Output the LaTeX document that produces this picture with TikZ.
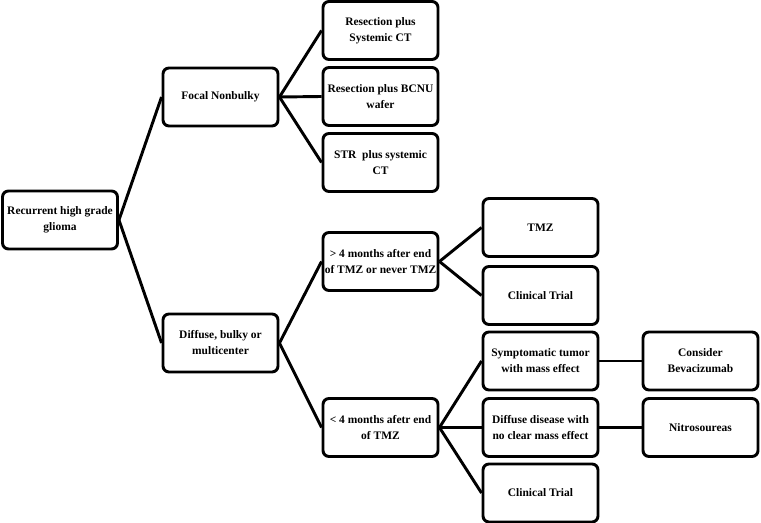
\documentclass[tikz,border=0pt]{standalone}
\usepackage{fontspec}
\setmainfont{Liberation Serif}
\usepackage{amsmath}
\usetikzlibrary{positioning}

\tikzset{
  box/.style={draw, line width=2.2pt, rounded corners=4.5pt, fill=white,
    minimum width=86.25pt, minimum height=43.5pt, inner sep=1pt,
    align=center, font=\bfseries\fontsize{8.6}{12}\selectfont},
  link/.style={line width=2.2pt}
}

\begin{document}
\begin{tikzpicture}[x=0.75pt,y=0.75pt,yscale=-1,xscale=1]
\useasboundingbox (0,0) rectangle (761,523);

%Level 0
\node [box] (root) at (60,220) {Recurrent high grade\\glioma};
%Level 1
\node [box] (focal) at (220.5,97) {Focal Nonbulky};
\node [box] (diffuse) at (220.5,343) {Diffuse, bulky or\\multicenter};
%Level 2
\node [box] (rescct) at (380.5,30.5) {Resection plus\\Systemic CT};
\node [box] (resbcnu) at (380.5,96.5) {Resection plus BCNU\\wafer};
\node [box] (strct) at (380.5,162.5) {STR\ \ plus systemic\\CT};
\node [box] (late) at (380.5,261.5) {> 4 months after end\\of TMZ or never TMZ};
\node [box] (early) at (380.5,427.5) {< 4 months afetr end\\of TMZ};
%Level 3
\node [box] (tmz) at (540.5,227.5) {TMZ};
\node [box] (trialA) at (540.5,295.5) {Clinical Trial};
\node [box] (mass) at (540.5,361) {Symptomatic tumor\\with mass effect};
\node [box] (nomass) at (540.5,427.5) {Diffuse disease with\\no clear mass effect};
\node [box] (trialB) at (540.5,493) {Clinical Trial};
%Level 4
\node [box] (beva) at (700.5,361) {Consider\\Bevacizumab};
\node [box] (nitro) at (700.5,427.5) {Nitrosoureas};

%Connectors
\draw [link] (root.east) -- (focal.west);
\draw [link] (root.east) -- (diffuse.west);
\draw [link] (focal.east) -- (rescct.west);
\draw [link] (focal.east) -- (resbcnu.west);
\draw [link] (focal.east) -- (strct.west);
\draw [link] (diffuse.east) -- (late.west);
\draw [link] (diffuse.east) -- (early.west);
\draw [link] (late.east) -- (tmz.west);
\draw [link] (late.east) -- (trialA.west);
\draw [link] (early.east) -- (mass.west);
\draw [link] (early.east) -- (nomass.west);
\draw [link] (early.east) -- (trialB.west);
\draw [link] (mass.east) -- (beva.west);
\draw [link] (nomass.east) -- (nitro.west);

\end{tikzpicture}
\end{document}
